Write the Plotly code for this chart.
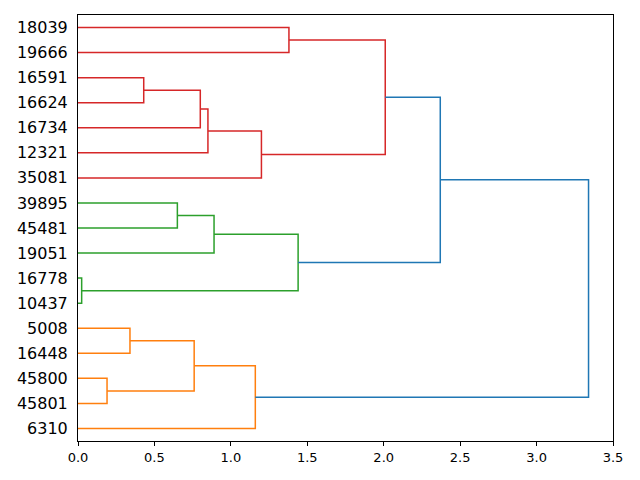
import plotly.graph_objects as go

# Leaves, top to bottom
leaves = ["18039", "19666", "16591", "16624", "16734", "12321", "35081",
          "39895", "45481", "19051", "16778", "10437",
          "5008", "16448", "45800", "45801", "6310"]

# Merges: (left child, right child, height, colour); merge i is referred to as "m<i>"
merge_left = ["18039", "16591", "m1", "m2", "m3", "m0",
              "39895", "m6", "16778", "m7", "m5",
              "5008", "45800", "m11", "m13", "m10"]
merge_right = ["19666", "16624", "16734", "12321", "35081", "m4",
               "45481", "19051", "10437", "m8", "m9",
               "16448", "45801", "m12", "6310", "m14"]
merge_height = [1.38, 0.43, 0.80, 0.85, 1.20, 2.01,
                0.65, 0.89, 0.024, 1.44, 2.37,
                0.34, 0.19, 0.76, 1.16, 3.34]
merge_color = ["red", "red", "red", "red", "red", "red",
               "green", "green", "green", "green", "blue",
               "orange", "orange", "orange", "orange", "blue"]

palette = {"red": "#d62728", "green": "#2ca02c", "orange": "#ff7f0e", "blue": "#1f77b4"}

n = len(leaves)
pos = {lab: 10 * (n - 1 - i) + 5 for i, lab in enumerate(leaves)}
height = {lab: 0.0 for lab in leaves}

fig = go.Figure()
for i, (a, b, h, c) in enumerate(zip(merge_left, merge_right, merge_height, merge_color)):
    ya, yb = pos[a], pos[b]
    xa, xb = height[a], height[b]
    fig.add_trace(go.Scatter(
        x=[xa, h, h, xb], y=[ya, ya, yb, yb], mode="lines",
        line=dict(color=palette[c], width=1.5), showlegend=False, hoverinfo="skip"))
    mid = f"m{i}"
    pos[mid] = (ya + yb) / 2
    height[mid] = h

fig.update_layout(
    width=640, height=480,
    margin=dict(l=78, r=27, t=15, b=39),
    plot_bgcolor="white", paper_bgcolor="white",
    font=dict(family="DejaVu Sans", color="black"),
    xaxis=dict(range=[0, 3.5], tickmode="array",
               tickvals=[0, 0.5, 1, 1.5, 2, 2.5, 3, 3.5],
               ticktext=["0.0", "0.5", "1.0", "1.5", "2.0", "2.5", "3.0", "3.5"],
               ticks="outside", ticklen=4, tickcolor="black",
               showline=True, linecolor="black", linewidth=1, mirror=True,
               showgrid=False, zeroline=False, tickfont=dict(size=13),
               automargin=False),
    yaxis=dict(range=[0, 10 * n], tickmode="array",
               tickvals=[pos[l] for l in leaves], ticktext=leaves,
               ticks="", showline=True, linecolor="black", linewidth=1, mirror=True,
               showgrid=False, zeroline=False, tickfont=dict(size=16),
               ticklabelstandoff=6, automargin=False),
)

fig.write_html("out.html", config={"displayModeBar": False},
               post_script="document.body.style.margin='0';document.body.style.overflow='hidden';")
